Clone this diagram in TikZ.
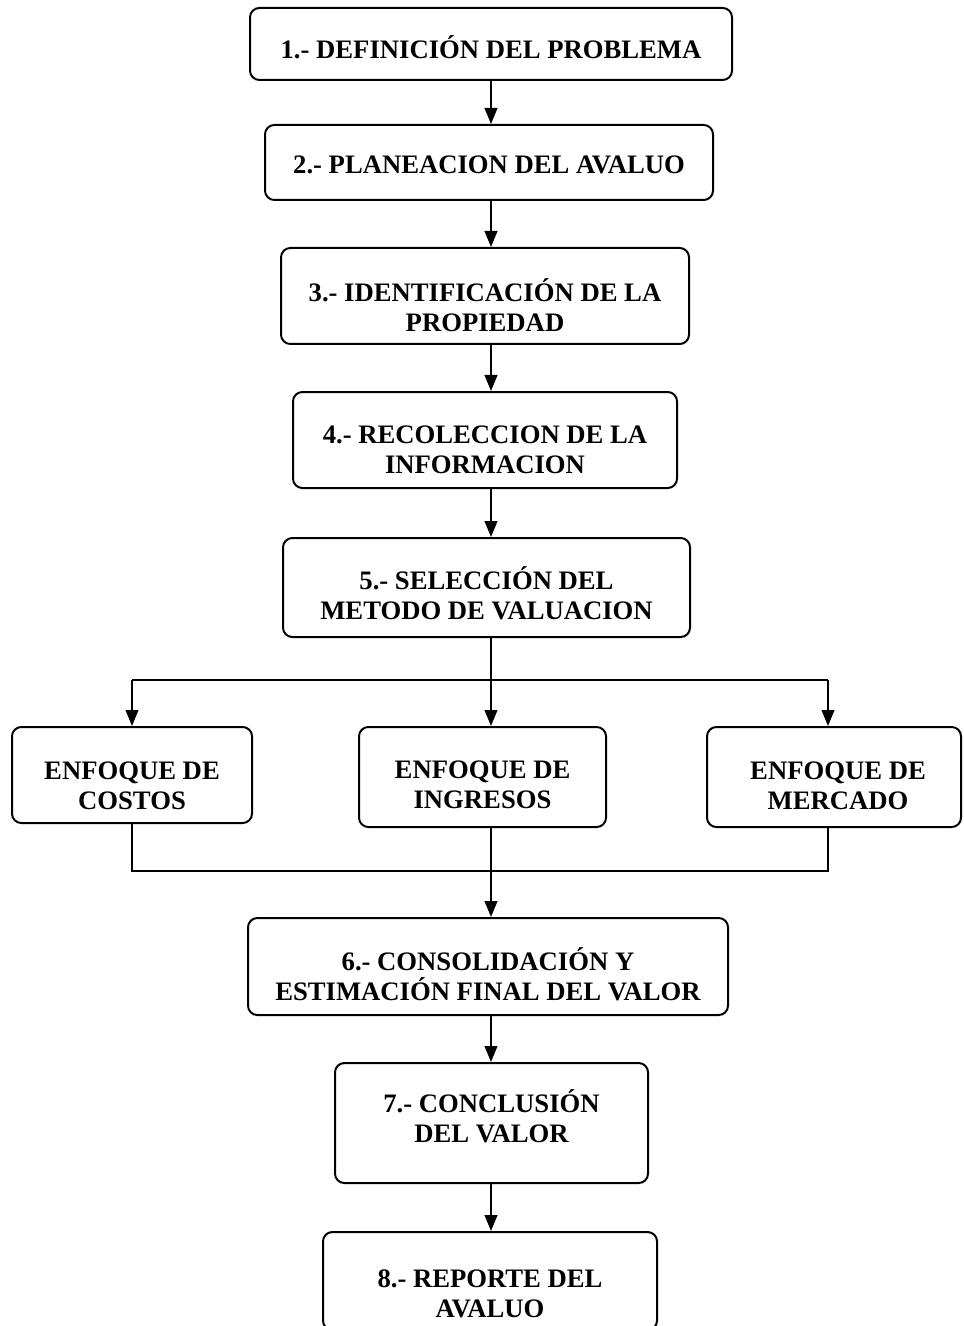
\documentclass[tikz,border=0pt]{standalone}
\usepackage{fontspec}
\setmainfont{Liberation Serif}
\usetikzlibrary{arrows.meta,calc}
\begin{document}
\begin{tikzpicture}[x=0.75pt,y=-0.75pt,
  box/.style={draw, line width=1.5pt, rounded corners=7pt, inner sep=0pt},
  txt/.style={align=center, inner sep=0pt,
    font=\bfseries\fontsize{20}{22.5}\selectfont},
  sz/.style 2 args={minimum width=#1*0.75pt, minimum height=#2*0.75pt},
  flow/.style={line width=1.5pt, -{Triangle[length=12pt,width=9.5pt]}},
  link/.style={line width=1.5pt}]
\useasboundingbox (0,0) rectangle (963,1326);

% main sequence of steps
\node[box, sz={482}{72}]  (n1) at (491,44)      {};
\node[box, sz={448}{75}]  (n2) at (489,162.5)   {};
\node[box, sz={408}{96}]  (n3) at (485,296)     {};
\node[box, sz={384}{96}]  (n4) at (485,440)     {};
\node[box, sz={407}{99}]  (n5) at (486.5,587.5) {};

% valuation approaches
\node[box, sz={240}{96}]  (c) at (132,775)   {};
\node[box, sz={247}{100}] (i) at (482.5,777) {};
\node[box, sz={254}{100}] (m) at (834,777)   {};

% closing steps
\node[box, sz={480}{97}]  (n6) at (488,966.5) {};
\node[box, sz={313}{120}] (n7) at (491.5,1123) {};
\node[box, sz={334}{98}]  (n8) at (490,1281)  {};

% box texts
\node[txt] (t1) at ($(n1.center)+(0,3)$)  {1.- DEFINICIÓN DEL PROBLEMA};
\node[txt] (t2) at ($(n2.center)+(0,2)$)  {2.- PLANEACION DEL AVALUO};
\node[txt] (t3) at ($(n3.center)+(0,9)$)  {3.- IDENTIFICACIÓN DE LA\\PROPIEDAD};
\node[txt] (t4) at ($(n4.center)+(0,10)$) {4.- RECOLECCION DE LA\\INFORMACION};
\node[txt] (t5) at ($(n5.center)+(0,6)$)  {5.- SELECCIÓN DEL\\METODO DE VALUACION};
\node[txt] (tc) at ($(c.center)+(0,11)$)  {ENFOQUE DE\\COSTOS};
\node[txt] (ti) at ($(i.center)+(0,8)$)   {ENFOQUE DE\\INGRESOS};
\node[txt] (tm) at ($(m.center)+(4,9)$)   {ENFOQUE DE\\MERCADO};
\node[txt] (t6) at ($(n6.center)+(0,8)$)  {6.- CONSOLIDACIÓN Y\\ESTIMACIÓN FINAL DEL VALOR};
\node[txt] (t7) at ($(n7.center)+(0,-7)$) {7.- CONCLUSIÓN\\DEL VALOR};
\node[txt] (t8) at ($(n8.center)+(0,13)$) {8.- REPORTE DEL\\AVALUO};

% branch and merge points
\coordinate (jL) at (132,680);
\coordinate (jC) at (491,680);
\coordinate (jR) at (828,680);
\coordinate (kL) at (132,871);
\coordinate (kR) at (828,871);

% connectors
\draw[flow] (n1.south -| jC) -- (jC |- n2.north);
\draw[flow] (n2.south -| jC) -- (jC |- n3.north);
\draw[flow] (n3.south -| jC) -- (jC |- n4.north);
\draw[flow] (n4.south -| jC) -- (jC |- n5.north);
\draw[link] (n5.south -| jC) -- (jC);
\draw[link] (jL) -- (jR);
\draw[flow] (jL) -- (jL |- c.north);
\draw[flow] (jC) -- (jC |- i.north);
\draw[flow] (jR) -- (jR |- m.north);
\draw[link] (jL |- c.south) -- (kL) -- (kR) -- (jR |- m.south);
\draw[flow] (jC |- i.south) -- (jC |- n6.north);
\draw[flow] (n6.south -| jC) -- (jC |- n7.north);
\draw[flow] (n7.south -| jC) -- (jC |- n8.north);
\end{tikzpicture}
\end{document}
